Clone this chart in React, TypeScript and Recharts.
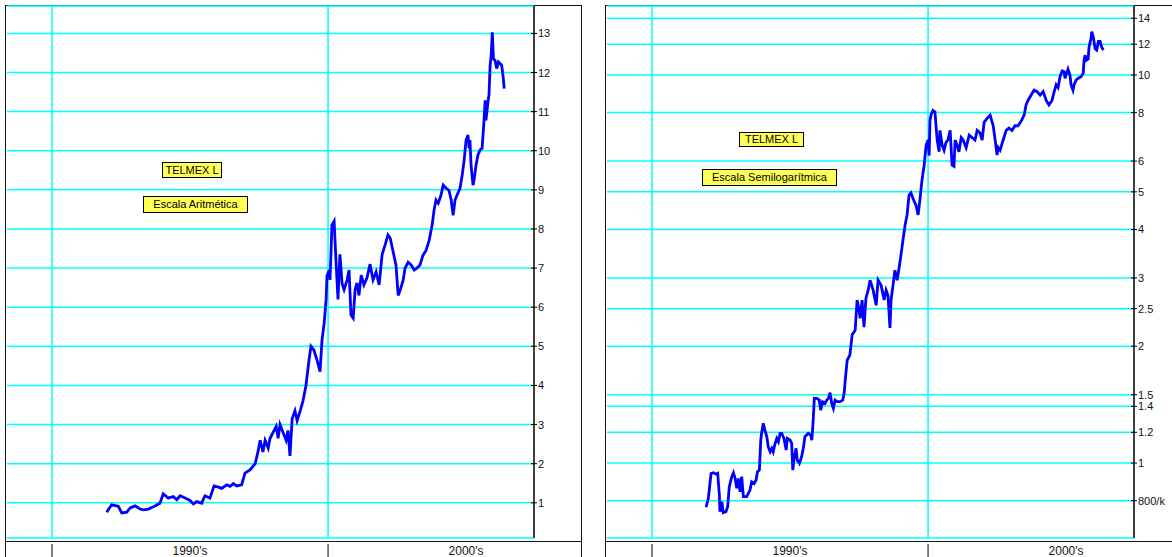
import React from 'react';
import { LineChart, Line, XAxis, YAxis, CartesianGrid, ReferenceLine } from 'recharts';

// ---------- data ----------
const leftYears = [
  1991.98, 1992.16, 1992.40, 1992.53, 1992.71, 1992.83, 1993.01, 1993.19, 1993.31, 1993.49,
  1993.73, 1993.91, 1994.03, 1994.21, 1994.39, 1994.52, 1994.64, 1994.82, 1995.00, 1995.12,
  1995.24, 1995.42, 1995.54, 1995.72, 1995.87, 1996.03, 1996.15, 1996.33, 1996.45, 1996.57,
  1996.69, 1996.87, 1996.99, 1997.17, 1997.36, 1997.46, 1997.54, 1997.64, 1997.72, 1997.83,
  1997.90, 1998.01, 1998.12, 1998.19, 1998.26, 1998.37, 1998.48, 1998.55, 1998.62, 1998.70,
  1998.80, 1998.88, 1998.99, 1999.09, 1999.20, 1999.31, 1999.38, 1999.49, 1999.60, 1999.71,
  1999.78, 1999.86, 1999.93, 1999.96, 2000.04, 2000.07, 2000.11, 2000.14, 2000.22, 2000.29,
  2000.36, 2000.43, 2000.51, 2000.58, 2000.69, 2000.76, 2000.83, 2000.91, 2000.98, 2001.05,
  2001.12, 2001.20, 2001.30, 2001.41, 2001.52, 2001.63, 2001.74, 2001.85, 2001.96, 2002.07,
  2002.17, 2002.25, 2002.36, 2002.46, 2002.54, 2002.61, 2002.72, 2002.79, 2002.90, 2003.01,
  2003.12, 2003.22, 2003.33, 2003.44, 2003.55, 2003.66, 2003.77, 2003.84, 2003.91, 2003.99,
  2004.09, 2004.17, 2004.28, 2004.38, 2004.46, 2004.53, 2004.60, 2004.67, 2004.78, 2004.86,
  2004.93, 2005.00, 2005.07, 2005.11, 2005.14, 2005.18, 2005.25, 2005.29, 2005.36, 2005.43,
  2005.51, 2005.58, 2005.65, 2005.69, 2005.72, 2005.80, 2005.83, 2005.87, 2005.91, 2005.95,
  2005.99, 2006.05, 2006.11, 2006.17, 2006.23, 2006.29, 2006.35, 2006.38,
];
const leftValues = [
  0.76, 0.95, 0.91, 0.74, 0.76, 0.87, 0.92, 0.84, 0.82, 0.84,
  0.92, 0.99, 1.23, 1.12, 1.16, 1.08, 1.18, 1.12, 1.06, 0.97,
  1.03, 0.99, 1.18, 1.12, 1.43, 1.40, 1.37, 1.46, 1.42, 1.49,
  1.43, 1.46, 1.76, 1.84, 2.0, 2.3, 2.6, 2.3, 2.6, 2.4,
  2.65, 2.8, 2.95, 2.65, 3.0, 2.8, 2.6, 2.85, 2.2, 3.15,
  3.35, 3.1, 3.35, 3.6, 4.0, 4.65, 5.0, 4.9, 4.65, 4.35,
  5.15, 5.6, 6.2, 6.8, 6.95, 6.7, 7.45, 8.1, 8.2, 7.15,
  6.2, 7.35, 6.6, 6.45, 6.7, 6.95, 5.8, 5.72, 6.45, 6.62,
  6.3, 6.82, 6.57, 6.75, 7.1, 6.7, 6.9, 6.57, 7.35, 7.6,
  7.85, 7.77, 7.41, 7.08, 6.3, 6.43, 6.69, 7.0, 7.15, 7.08,
  6.95, 7.0, 7.08, 7.33, 7.45, 7.7, 8.1, 8.48, 8.74, 8.66,
  8.86, 9.12, 9.04, 8.99, 8.74, 8.35, 8.74, 8.86, 9.04, 9.38,
  9.76, 10.27, 10.4, 10.06, 10.27, 9.63, 9.12, 9.25, 9.63, 9.89,
  10.02, 10.06, 10.78, 11.29, 10.78, 11.29, 11.42, 12.18, 12.44, 13.03,
  12.35, 12.31, 12.1, 12.27, 12.23, 12.18, 11.84, 11.59,
];

const rightYears = [
  1991.96, 1992.04, 1992.14, 1992.22, 1992.32, 1992.38, 1992.44, 1992.46, 1992.53, 1992.58,
  1992.68, 1992.74, 1992.80, 1992.89, 1992.95, 1993.01, 1993.07, 1993.13, 1993.19, 1993.25,
  1993.31, 1993.43, 1993.55, 1993.61, 1993.70, 1993.77, 1993.82, 1993.89, 1993.94, 1993.97,
  1994.03, 1994.09, 1994.16, 1994.21, 1994.28, 1994.34, 1994.39, 1994.46, 1994.52, 1994.58,
  1994.64, 1994.70, 1994.78, 1994.86, 1994.90, 1995.00, 1995.06, 1995.10, 1995.14, 1995.22,
  1995.26, 1995.34, 1995.42, 1995.48, 1995.54, 1995.66, 1995.75, 1995.79, 1995.84, 1995.88,
  1995.97, 1996.06, 1996.11, 1996.18, 1996.27, 1996.33, 1996.39, 1996.45, 1996.51, 1996.57,
  1996.63, 1996.71, 1996.81, 1996.91, 1996.96, 1997.00, 1997.07, 1997.17, 1997.25, 1997.36,
  1997.43, 1997.50, 1997.54, 1997.61, 1997.68, 1997.75, 1997.83, 1997.90, 1998.01, 1998.12,
  1998.19, 1998.30, 1998.41, 1998.48, 1998.55, 1998.62, 1998.66, 1998.73, 1998.80, 1998.88,
  1998.95, 1999.02, 1999.09, 1999.17, 1999.24, 1999.31, 1999.38, 1999.46, 1999.57, 1999.64,
  1999.71, 1999.78, 1999.86, 1999.93, 2000.00, 2000.04, 2000.07, 2000.11, 2000.18, 2000.25,
  2000.33, 2000.40, 2000.43, 2000.51, 2000.58, 2000.65, 2000.72, 2000.80, 2000.87, 2000.94,
  2000.98, 2001.05, 2001.12, 2001.20, 2001.27, 2001.38, 2001.49, 2001.59, 2001.70, 2001.78,
  2001.88, 2001.96, 2002.03, 2002.14, 2002.25, 2002.36, 2002.43, 2002.50, 2002.54, 2002.61,
  2002.72, 2002.83, 2002.93, 2003.04, 2003.15, 2003.26, 2003.37, 2003.48, 2003.55, 2003.62,
  2003.73, 2003.84, 2003.95, 2004.06, 2004.17, 2004.28, 2004.38, 2004.49, 2004.57, 2004.64,
  2004.71, 2004.78, 2004.86, 2004.93, 2004.96, 2005.04, 2005.07, 2005.14, 2005.18, 2005.25,
  2005.29, 2005.36, 2005.43, 2005.54, 2005.62, 2005.65, 2005.69, 2005.72, 2005.80, 2005.83,
  2005.90, 2005.93, 2005.99, 2006.05, 2006.11, 2006.17, 2006.23, 2006.29, 2006.35,
];
const rightValues = [
  0.77, 0.81, 0.94, 0.944, 0.937, 0.941, 0.827, 0.749, 0.795, 0.745,
  0.749, 0.772, 0.869, 0.922, 0.944, 0.913, 0.861, 0.913, 0.843, 0.922,
  0.819, 0.819, 0.852, 0.895, 0.886, 0.904, 0.95, 0.959, 1.146, 1.193,
  1.266, 1.216, 1.169, 1.102, 1.069, 1.091, 1.069, 1.124, 1.158, 1.135,
  1.193, 1.193, 1.158, 1.08, 1.158, 1.146, 1.124, 0.959, 1.018, 1.091,
  1.018, 0.998, 1.038, 1.091, 1.169, 1.193, 1.181, 1.146, 1.291, 1.468,
  1.468, 1.453, 1.369, 1.439, 1.425, 1.453, 1.468, 1.518, 1.425, 1.384,
  1.453, 1.439, 1.439, 1.453, 1.512, 1.636, 1.84, 1.9, 2.14, 2.2,
  2.63, 2.48, 2.36, 2.63, 2.24, 2.66, 2.79, 2.96, 2.79, 2.55,
  2.96, 2.87, 2.63, 2.79, 2.7, 2.23, 2.63, 2.87, 3.14, 2.96,
  3.18, 3.44, 3.75, 4.11, 4.36, 4.9, 4.97, 4.8, 4.6, 4.36,
  4.8, 5.36, 5.86, 6.6, 6.8, 6.2, 7.65, 7.9, 8.1, 8.03,
  6.8, 6.34, 7.2, 6.6, 6.4, 6.7, 6.8, 7.2, 5.86, 5.82,
  6.8, 6.6, 6.34, 6.9, 6.8, 6.5, 7.0, 6.9, 6.8, 7.2,
  7.1, 6.8, 7.55, 7.73, 7.88, 7.4, 6.8, 6.22, 6.5, 6.4,
  6.8, 7.2, 7.3, 7.2, 7.4, 7.4, 7.6, 7.88, 8.37, 8.6,
  8.87, 9.14, 9.06, 8.87, 9.06, 8.6, 8.37, 8.6, 9.06, 9.44,
  9.28, 9.9, 10.25, 10.2, 9.8, 10.2, 10.35, 10.0, 9.44, 9.14,
  9.44, 9.7, 9.8, 9.9, 10.1, 10.9, 11.25, 10.9, 11.0, 11.8,
  12.4, 12.93, 12.5, 11.7, 11.6, 12.2, 12.2, 11.8, 11.6,
];

const decadeStarts = [1990, 2000];
const decadeMids = [1995, 2005];
const decadeLabels = ["1990's", "2000's"];

const arithTicks = [1, 2, 3, 4, 5, 6, 7, 8, 9, 10, 11, 12, 13];
const arithTickLabels = ['1', '2', '3', '4', '5', '6', '7', '8', '9', '10', '11', '12', '13'];
const logTicks = [0.8, 1, 1.2, 1.4, 1.5, 2, 2.5, 3, 4, 5, 6, 8, 10, 12, 14];
const logTickLabels = ['800/k', '1', '1.2', '1.4', '1.5', '2', '2.5', '3', '4', '5', '6', '8', '10', '12', '14'];

const titleText = 'TELMEX L';
const leftScaleText = 'Escala Aritmética';
const rightScaleText = 'Escala Semilogarítmica';

const FONT = '"Liberation Sans", Arial, sans-serif';
const GRID = '#00FFFF';

const leftData = leftYears.map((t, i) => ({ t, v: leftValues[i] }));
const rightData = rightYears.map((t, i) => ({ t, v: rightValues[i] }));

const XTick = (props: any) => {
  const { x, y, payload } = props;
  const v = Math.round(payload.value);
  const i = decadeStarts.indexOf(v);
  if (i >= 0) {
    return <line x1={x} x2={x} y1={y + 6} y2={y + 24} stroke="#000" strokeWidth={1} />;
  }
  const j = decadeMids.indexOf(v);
  return (
    <text x={x} y={y + 17} textAnchor="middle" fontSize={12} fill="#111" fontFamily={FONT}>
      {decadeLabels[j]}
    </text>
  );
};

const makeYTick = (ticks: number[], labels: string[]) => (props: any) => {
  const { x, y, payload } = props;
  const idx = ticks.findIndex((t) => Math.abs(t - payload.value) < 1e-6);
  return (
    <g>
      <line x1={x - 3} x2={x + 3} y1={y} y2={y} stroke="#000" strokeWidth={1} />
      <text x={x + 4} y={y + 4} fontSize={11} fill="#111" fontFamily={FONT}>
        {idx >= 0 ? labels[idx] : ''}
      </text>
    </g>
  );
};

const Box = ({ left, top, width, height, text }: any) => (
  <div
    style={{
      position: 'absolute', left, top, width, height, boxSizing: 'border-box',
      background: '#FFFF55', border: '1px solid #000', fontFamily: FONT, fontSize: 11,
      lineHeight: `${height - 2}px`, textAlign: 'center', color: '#000', whiteSpace: 'nowrap',
    }}
  >
    {text}
  </div>
);

const Frame = ({ left }: { left: number }) => (
  <>
    <div style={{ position: 'absolute', left, top: 5, width: 577, height: 600, boxSizing: 'border-box', border: '1px solid #111' }} />
    <div style={{ position: 'absolute', left, top: 541, width: 577, height: 1, background: '#111' }} />
  </>
);

const Panel = ({ data, left, scale, domain, ticks, labels }: any) => (
  <div style={{ position: 'absolute', left, top: 0 }}>
    <LineChart width={582} height={560} data={data} margin={{ top: 6, right: 8, bottom: 0, left: 7 }}>
      <CartesianGrid vertical={false} stroke={GRID} strokeWidth={1.5} />
      {decadeStarts.map((d) => (
        <ReferenceLine key={d} x={d} stroke={GRID} strokeWidth={1.5} />
      ))}
      <XAxis
        dataKey="t" type="number" domain={[1988.37, 2007.46]} allowDataOverflow
        ticks={[...decadeStarts, ...decadeMids].sort()} interval={0}
        tick={XTick} tickLine={false} axisLine={false} tickSize={0} tickMargin={0} height={22}
      />
      <YAxis
        orientation="right" type="number" scale={scale} domain={domain} allowDataOverflow
        ticks={ticks} interval={0} tick={makeYTick(ticks, labels)} tickLine={false}
        tickSize={0} tickMargin={0} axisLine={{ stroke: '#000', strokeWidth: 1.5 }} width={40}
      />
      <Line dataKey="v" type="linear" stroke="#0000FF" strokeWidth={2.8} dot={false} isAnimationActive={false} />
    </LineChart>
  </div>
);

export default function App() {
  return (
    <div style={{ position: 'absolute', left: 0, top: 0, width: 1172, height: 557, overflow: 'hidden', background: '#fff', fontFamily: FONT }}>
      <Frame left={5} />
      <Frame left={605} />
      <Panel data={leftData} left={0} scale="linear" domain={[0.1, 13.7]} ticks={arithTicks} labels={arithTickLabels} />
      <Panel data={rightData} left={600} scale="log" domain={[0.641, 15.06]} ticks={logTicks} labels={logTickLabels} />
      <Box left={162} top={162} width={60} height={16} text={titleText} />
      <Box left={143} top={196} width={105} height={17} text={leftScaleText} />
      <Box left={739} top={132} width={65} height={15} text={titleText} />
      <Box left={702} top={169} width={135} height={17} text={rightScaleText} />
    </div>
  );
}
